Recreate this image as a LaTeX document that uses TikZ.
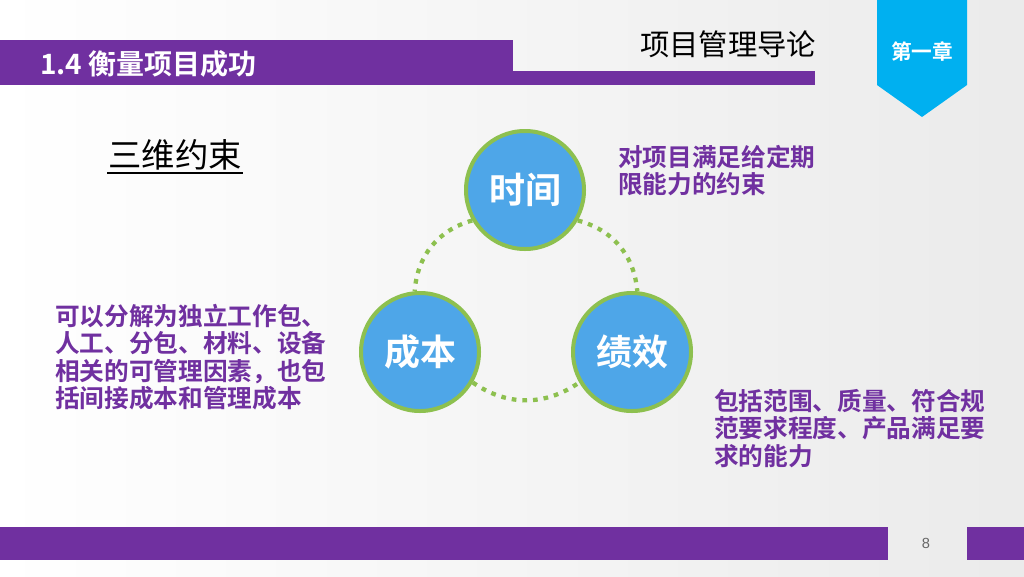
\documentclass[tikz,border=0pt]{standalone}
\usepackage{fontspec}
\setmainfont{Liberation Sans}
\newfontfamily\cjk{Noto Sans CJK SC}
\newfontfamily\cjkb{Noto Sans CJK SC Bold}
\definecolor{pur}{RGB}{112,48,160}
\definecolor{cblue}{RGB}{78,166,232}
\definecolor{cgreen}{RGB}{141,192,79}
\definecolor{rib}{RGB}{0,176,240}
\begin{document}
\begin{tikzpicture}[x=0.75pt,y=-0.75pt,
  circ/.style={circle,draw=cgreen,line width=3pt,fill=cblue,minimum size=118*0.75pt,text=white,font=\cjkb\fontsize{27}{27}\selectfont},
  ptext/.style={text=pur,font=\cjkb\fontsize{18.5}{20.5}\selectfont,align=left,anchor=north west,inner sep=0pt},
  dotl/.style={cgreen,line width=3.2pt,dash pattern=on 3.5pt off 4.5pt}]
\useasboundingbox (0,0) rectangle (1024,576);
\shade[left color=white,right color=white!92!black] (0,0) rectangle (1024,576);
% header
\fill[pur] (0,40) rectangle (513,85);
\fill[pur] (513,71) rectangle (815,85);
\node[anchor=west,text=white,font=\cjkb\fontsize{21}{21}\selectfont,inner sep=0pt] (title) at (40,64) {1.4 衡量项目成功};
\node[anchor=center,font=\cjk\fontsize{22}{22}\selectfont,inner sep=0pt] (sub) at (728,44) {项目管理导论};
\fill[rib] (877,0) -- (967,0) -- (967,85) -- (922,117) -- (877,85) -- cycle;
\node[text=white,font=\cjkb\fontsize{15.5}{15.5}\selectfont] (chap) at (922,52) {第一章};
% bottom
\fill[pur] (0,527) rectangle (888,560);
\fill[pur] (967,527) rectangle (1024,560);
\node[text=black!60,font=\fontsize{11}{11}\selectfont] (pg) at (926,543) {8};
% heading
\node[font=\cjk\fontsize{25}{25}\selectfont,inner sep=0pt] (h) at (175,155) {三维约束};
\draw[line width=1pt] (107,173) -- (243,173);
% circles
\node[circ] (t) at (525,190) {时间};
\node[circ] (c) at (420,352) {成本};
\node[circ] (p) at (632,352) {绩效};
\draw[dotl] (t.210) to[bend right=35] (c.95);
\draw[dotl] (t.-30) to[bend left=35] (p.85);
\draw[dotl] (c.-30) to[bend right=35] (p.210);
% texts
\node[ptext] (tt) at (618,145) {对项目满足给定期\\限能力的约束};
\node[ptext] (ct) at (55,304) {可以分解为独立工作包、\\人工、分包、材料、设备\\相关的可管理因素，也包\\括间接成本和管理成本};
\node[ptext] (pt) at (714,389) {包括范围、质量、符合规\\范要求程度、产品满足要\\求的能力};
\end{tikzpicture}
\end{document}
